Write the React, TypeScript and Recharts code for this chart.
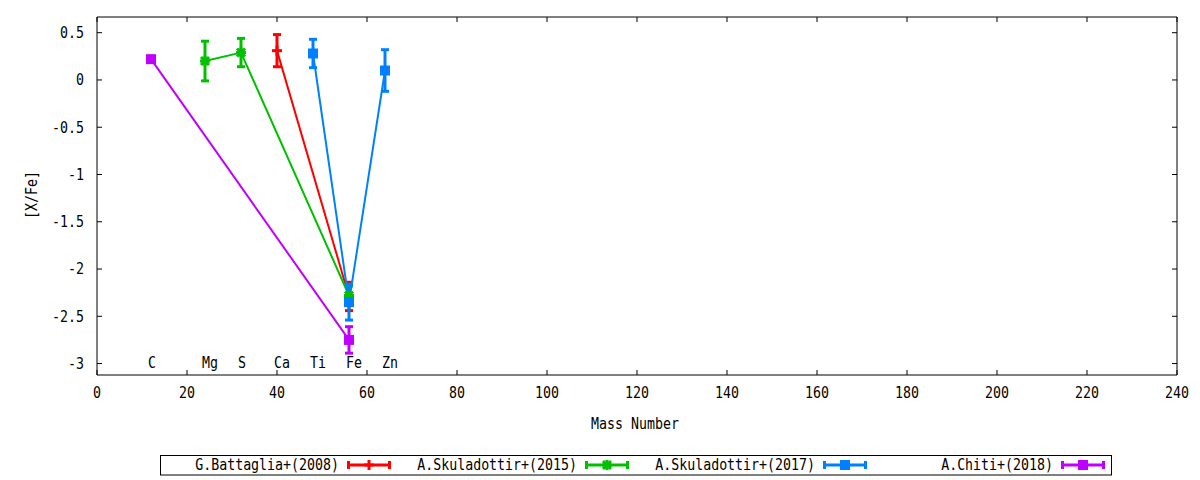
import React from "react";
import { ComposedChart, ErrorBar, Line, Scatter, XAxis, YAxis } from "recharts";

const FONT = "'DejaVu Sans Mono', monospace";

// element labels written along the bottom of the plot, at their mass number
const elementNames = ["C", "Mg", "S", "Ca", "Ti", "Fe", "Zn"];
const elementMass = [12, 24, 32, 40, 48, 56, 64];

// G.Battaglia+(2008)
const battagliaMass = [40, 56];
const battagliaXFe = [0.31, -2.29];
const battagliaErr = [0.17, 0.15];

// A.Skuladottir+(2015)
const skul15Mass = [24, 32, 56];
const skul15XFe = [0.2, 0.29, -2.28];
const skul15Err = [0.21, 0.15, 0.1];

// A.Skuladottir+(2017)
const skul17Mass = [48, 56, 64];
const skul17XFe = [0.28, -2.35, 0.1];
const skul17Err = [0.15, 0.19, 0.22];

// A.Chiti+(2018)
const chitiMass = [12, 56];
const chitiXFe = [0.22, -2.75];
const chitiErr = [0, 0.14];

const xTicks = [0, 20, 40, 60, 80, 100, 120, 140, 160, 180, 200, 220, 240];
const yTicks = [-3, -2.5, -2, -1.5, -1, -0.5, 0, 0.5];

const toPoints = (mass: number[], xfe: number[], err: number[]) =>
  mass.map((m, i) => ({ x: m, y: xfe[i], err: err[i] }));

type MarkerKind = "plus" | "star" | "square";

const series: { name: string; color: string; marker: MarkerKind; data: any[] }[] = [
  { name: "G.Battaglia+(2008)", color: "#ff0000", marker: "plus", data: toPoints(battagliaMass, battagliaXFe, battagliaErr) },
  { name: "A.Skuladottir+(2015)", color: "#00c000", marker: "star", data: toPoints(skul15Mass, skul15XFe, skul15Err) },
  { name: "A.Skuladottir+(2017)", color: "#0080ff", marker: "square", data: toPoints(skul17Mass, skul17XFe, skul17Err) },
  { name: "A.Chiti+(2018)", color: "#c000ff", marker: "square", data: toPoints(chitiMass, chitiXFe, chitiErr) },
];

const elementLabels = elementNames.map((n, i) => ({ x: elementMass[i], y: -3, name: n }));

// gnuplot's narrow mono font: DejaVu Sans Mono squeezed horizontally
function T({ x, y, anchor = "middle", rotate = 0, children }: any) {
  return (
    <text
      transform={`translate(${x},${y}) rotate(${rotate}) scale(0.885,1)`}
      textAnchor={anchor}
      dominantBaseline="central"
      style={{ fontFamily: FONT, fontSize: 15, fill: "#000" }}
    >
      {children}
    </text>
  );
}

function Marker({ cx, cy, kind, color }: { cx: number; cy: number; kind: MarkerKind; color: string }) {
  if (kind === "square") {
    return <rect x={cx - 5} y={cy - 5} width={10} height={10} fill={color} />;
  }
  if (kind === "plus") {
    return (
      <g stroke={color} strokeWidth={3}>
        <line x1={cx - 5} x2={cx + 5} y1={cy} y2={cy} />
        <line x1={cx} x2={cx} y1={cy - 5} y2={cy + 5} />
      </g>
    );
  }
  return (
    <g stroke={color} strokeWidth={3}>
      <line x1={cx - 5} x2={cx + 5} y1={cy} y2={cy} />
      <line x1={cx} x2={cx} y1={cy - 5} y2={cy + 5} />
      <line x1={cx - 4} x2={cx + 4} y1={cy - 4} y2={cy + 4} />
      <line x1={cx - 4} x2={cx + 4} y1={cy + 4} y2={cy - 4} />
    </g>
  );
}

const BottomTick = ({ x, y, payload }: any) => (
  <g>
    <line x1={x} x2={x} y1={y} y2={y - 5} stroke="#000" />
    <T x={x} y={y + 18}>{payload.value}</T>
  </g>
);

const TopTick = ({ x, y }: any) => <line x1={x} x2={x} y1={y} y2={y + 5} stroke="#000" />;

const LeftTick = ({ x, y, payload }: any) => (
  <g>
    <line x1={x} x2={x + 5} y1={y} y2={y} stroke="#000" />
    <T x={x - 13} y={y} anchor="end">{String(payload.value)}</T>
  </g>
);

const RightTick = ({ x, y }: any) => <line x1={x} x2={x - 5} y1={y} y2={y} stroke="#000" />;

function LegendBox() {
  return (
    <svg width={1200} height={480} style={{ position: "absolute", left: 0, top: 0, pointerEvents: "none" }}>
      <rect x={160.5} y={455.5} width={951} height={19.5} fill="none" stroke="#000" />
      {series.map((s, i) => {
        const x0 = 347 + 238 * i;
        const x1 = x0 + 44;
        const cy = 465;
        const mid = (x0 + x1) / 2;
        return (
          <g key={s.name}>
            <T x={x0 - 8} y={cy} anchor="end">{s.name}</T>
            <g stroke={s.color} strokeWidth={3}>
              <line x1={x0} x2={x1} y1={cy} y2={cy} />
              <line x1={x0 + 1.5} x2={x0 + 1.5} y1={cy - 4} y2={cy + 4} />
              <line x1={x1 - 1.5} x2={x1 - 1.5} y1={cy - 4} y2={cy + 4} />
            </g>
            <Marker cx={mid} cy={cy} kind={s.marker} color={s.color} />
          </g>
        );
      })}
    </svg>
  );
}

export default function App() {
  return (
    <div style={{ position: "absolute", left: 0, top: 0, width: 1200, height: 480, background: "#fff" }}>
      <ComposedChart width={1200} height={480} margin={{ top: 0, right: 0, bottom: 0, left: 0 }}>
        <XAxis
          xAxisId="b"
          type="number"
          dataKey="x"
          domain={[0, 240]}
          ticks={xTicks}
          interval={0}
          allowDataOverflow
          height={105}
          tickSize={0}
          tickMargin={0}
          tickLine={false}
          axisLine={{ stroke: "#000" }}
          tick={<BottomTick />}
          label={({ viewBox }: any) => (
            <T x={viewBox.x + viewBox.width / 2 - 2} y={viewBox.y + 49}>
              Mass Number
            </T>
          )}
        />
        <XAxis
          xAxisId="t"
          orientation="top"
          type="number"
          dataKey="x"
          domain={[0, 240]}
          ticks={xTicks}
          interval={0}
          allowDataOverflow
          height={17}
          tickSize={0}
          tickMargin={0}
          tickLine={false}
          axisLine={{ stroke: "#000" }}
          tick={<TopTick />}
        />
        <YAxis
          yAxisId="l"
          type="number"
          domain={[-3.121, 0.666]}
          ticks={yTicks}
          interval={0}
          allowDataOverflow
          width={97}
          tickSize={0}
          tickMargin={0}
          tickLine={false}
          axisLine={{ stroke: "#000" }}
          tick={<LeftTick />}
          label={({ viewBox }: any) => (
            <T x={32} y={viewBox.y + viewBox.height / 2 - 1} rotate={-90}>
              [X/Fe]
            </T>
          )}
        />
        <YAxis
          yAxisId="r"
          orientation="right"
          type="number"
          domain={[-3.121, 0.666]}
          ticks={yTicks}
          interval={0}
          allowDataOverflow
          width={23}
          tickSize={0}
          tickMargin={0}
          tickLine={false}
          axisLine={{ stroke: "#000" }}
          tick={<RightTick />}
        />

        <Scatter
          xAxisId="b"
          yAxisId="l"
          data={elementLabels}
          dataKey="y"
          isAnimationActive={false}
          shape={(p: any) => (
            <T x={p.cx - 3} y={p.cy - 1} anchor="start">
              {p.payload.name}
            </T>
          )}
        />

        {series.map((s) => (
          <Line
            key={s.name}
            xAxisId="b"
            yAxisId="l"
            data={s.data}
            dataKey="y"
            name={s.name}
            type="linear"
            stroke={s.color}
            strokeWidth={2}
            isAnimationActive={false}
            activeDot={false}
            dot={(p: any) => <Marker key={`${s.name}-${p.index}`} cx={p.cx} cy={p.cy} kind={s.marker} color={s.color} />}
          >
            <ErrorBar dataKey="err" direction="y" width={4} strokeWidth={3} stroke={s.color} isAnimationActive={false} />
          </Line>
        ))}
      </ComposedChart>
      <LegendBox />
    </div>
  );
}
